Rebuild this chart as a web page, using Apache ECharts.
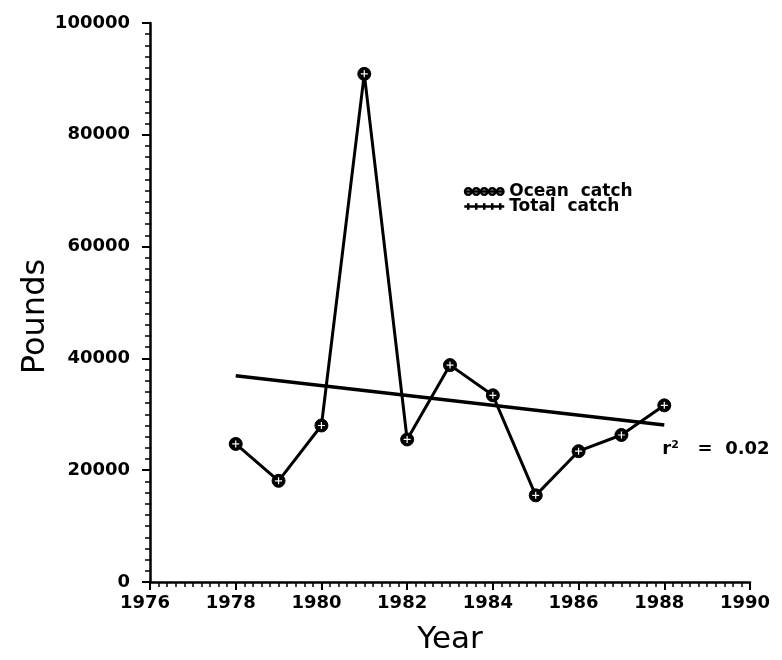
<!DOCTYPE html>
<html>
<head>
<meta charset="utf-8">
<script src="https://cdn.jsdelivr.net/npm/echarts@6/dist/echarts.min.js"></script>
<style>
html,body{margin:0;padding:0;background:#fff;}
#chart{width:782px;height:660px;}
</style>
</head>
<body>
<div id="chart"></div>
<script>
// ---- data ----
const years = [1978, 1979, 1980, 1981, 1982, 1983, 1984, 1985, 1986, 1987, 1988];
const oceanCatch = [24700, 18100, 28000, 90900, 25500, 38800, 33400, 15500, 23400, 26300, 31600];
const totalCatch = [24700, 18100, 28000, 90900, 25500, 38800, 33400, 15500, 23400, 26300, 31600];
const trendYears = [1978, 1988];
const trendValues = [36900, 28100];
const rSquaredText = '0.02';
const xTicks = {min: 1976, max: 1990, interval: 2};
const yTicks = {min: 0, max: 100000, interval: 20000};

const pair = (xs, ys) => xs.map((x, i) => [x, ys[i]]);

const FONT = 'DejaVu Sans';
const chart = echarts.init(document.getElementById('chart'), null, {renderer: 'canvas'});

const oceanIcon = 'path://M0 10 L100 10 M18 10 A8 8 0 1 1 2 10 A8 8 0 1 1 18 10 M38 10 A8 8 0 1 1 22 10 A8 8 0 1 1 38 10 M58 10 A8 8 0 1 1 42 10 A8 8 0 1 1 58 10 M78 10 A8 8 0 1 1 62 10 A8 8 0 1 1 78 10 M98 10 A8 8 0 1 1 82 10 A8 8 0 1 1 98 10';
const totalIcon = 'path://M0 10 L100 10 M10 2 L10 18 M30 2 L30 18 M50 2 L50 18 M70 2 L70 18 M90 2 L90 18';
const plusSymbol = 'path://M5 0 L5 10 M0 5 L10 5';

chart.setOption({
  animation: false,
  backgroundColor: '#fff',
  textStyle: {fontFamily: FONT, color: '#000'},
  grid: {left: 150, right: 32, top: 23, bottom: 71, containLabel: false},
  xAxis: {
    type: 'value',
    min: xTicks.min, max: xTicks.max, interval: xTicks.interval,
    name: 'Year', nameLocation: 'middle', nameGap: 42,
    nameTextStyle: {fontFamily: FONT, fontSize: 31, color: '#000'},
    axisLine: {show: true, lineStyle: {color: '#000', width: 2.5}},
    axisTick: {show: true, inside: false, length: 8, lineStyle: {color: '#000', width: 2}},
    minorTick: {show: true, splitNumber: 10, length: 5, lineStyle: {color: '#000', width: 1.5}},
    splitLine: {show: false},
    axisLabel: {fontFamily: FONT, fontWeight: 'bold', fontSize: 18, color: '#000', margin: 12,
      padding: [0, 10, 0, 0], formatter: v => String(v)}
  },
  yAxis: {
    type: 'value',
    min: yTicks.min, max: yTicks.max, interval: yTicks.interval,
    name: 'Pounds', nameLocation: 'middle', nameGap: 98, nameRotate: 90, nameMoveOverlap: false,
    nameTextStyle: {fontFamily: FONT, fontSize: 32, color: '#000', padding: [0, 28, 0, 0]},
    axisLine: {show: true, lineStyle: {color: '#000', width: 2.5}},
    axisTick: {show: true, inside: false, length: 8, lineStyle: {color: '#000', width: 2}},
    minorTick: {show: true, splitNumber: 10, length: 5, lineStyle: {color: '#000', width: 1.5}},
    splitLine: {show: false},
    axisLabel: {fontFamily: FONT, fontWeight: 'bold', fontSize: 18, color: '#000', margin: 20,
      formatter: v => String(v)}
  },
  legend: {
    show: true, orient: 'vertical', left: 458, top: 178,
    itemWidth: 40, itemHeight: 9, itemGap: -2,
    textStyle: {fontFamily: FONT, fontWeight: 'bold', fontSize: 17, color: '#000'},
    formatter: n => n.replace(' ', '  '),
    data: [
      {name: 'Ocean catch', icon: oceanIcon, itemStyle: {color: 'rgba(0,0,0,0)', borderColor: '#000', borderWidth: 2.5}},
      {name: 'Total catch', icon: totalIcon, itemStyle: {color: 'rgba(0,0,0,0)', borderColor: '#000', borderWidth: 2.5}}
    ]
  },
  series: [
    {
      name: 'Ocean catch', type: 'line', data: pair(years, oceanCatch),
      symbol: 'circle', symbolSize: 13,
      itemStyle: {color: '#000', borderColor: '#000', borderWidth: 1},
      lineStyle: {color: '#000', width: 3},
      z: 3
    },
    {
      name: 'Total catch', type: 'line', data: pair(years, totalCatch),
      symbol: plusSymbol, symbolSize: 7,
      itemStyle: {color: 'rgba(0,0,0,0)', borderColor: '#fff', borderWidth: 1.2},
      lineStyle: {width: 0, opacity: 0},
      z: 4
    },
    {
      name: 'Trend', type: 'line', data: pair(trendYears, trendValues),
      symbol: 'none', lineStyle: {color: '#000', width: 3.5}, z: 2,
      endLabel: {
        show: true, offset: [-10, 24], align: 'left',
        formatter: '{r|r}{sup|2}{t|   =  ' + rSquaredText + '}',
        rich: {
          r: {fontFamily: FONT, fontWeight: 'bold', fontSize: 18, color: '#000'},
          sup: {fontFamily: FONT, fontWeight: 'bold', fontSize: 11, color: '#000', verticalAlign: 'top', padding: [0, 0, 8, 0]},
          t: {fontFamily: FONT, fontWeight: 'bold', fontSize: 18, color: '#000'}
        }
      }
    }
  ]
});
</script>
</body>
</html>
